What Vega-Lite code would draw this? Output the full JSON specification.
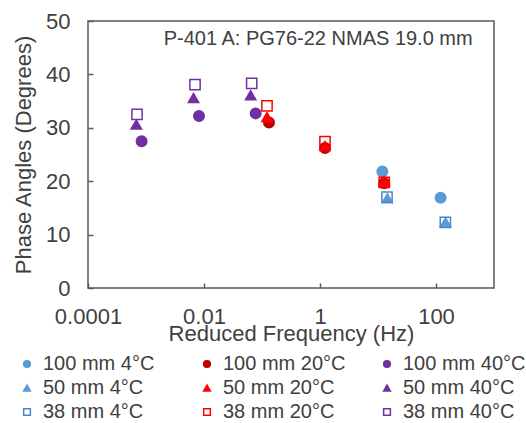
{
  "$schema": "https://vega.github.io/schema/vega-lite/v6.json",
  "width": 406,
  "height": 267,
  "autosize": {"type": "none"},
  "padding": {"left": 88, "top": 21, "right": 32, "bottom": 135},
  "background": "white",
  "config": {
    "font": "Liberation Sans",
    "view": {"stroke": "#595959", "strokeWidth": 1.5},
    "axis": {
      "grid": false,
      "domain": false,
      "tickColor": "#595959",
      "tickWidth": 1.5,
      "tickSize": -5,
      "labelFontSize": 22,
      "labelColor": "#404040",
      "titleFontSize": 22,
      "titleFontWeight": "normal",
      "titleColor": "#404040",
      "labelFont": "Liberation Sans",
      "titleFont": "Liberation Sans"
    },
    "legend": {
      "labelFont": "Liberation Sans",
      "labelFontSize": 20,
      "labelColor": "#404040"
    }
  },
  "data": {
    "values": [
      {"series": "100 mm 4°C", "specimen": "100 mm", "freq": 11.9, "angle": 21.8},
      {"series": "100 mm 4°C", "specimen": "100 mm", "freq": 120, "angle": 16.9},
      {"series": "100 mm 20°C", "specimen": "100 mm", "freq": 0.132, "angle": 31.0},
      {"series": "100 mm 20°C", "specimen": "100 mm", "freq": 1.22, "angle": 26.2},
      {"series": "100 mm 20°C", "specimen": "100 mm", "freq": 12.8, "angle": 19.6},
      {"series": "100 mm 40°C", "specimen": "100 mm", "freq": 0.00084, "angle": 27.5},
      {"series": "100 mm 40°C", "specimen": "100 mm", "freq": 0.0082, "angle": 32.2},
      {"series": "100 mm 40°C", "specimen": "100 mm", "freq": 0.0778, "angle": 32.7},
      {"series": "50 mm 4°C", "specimen": "50 mm", "freq": 14.5, "angle": 16.8},
      {"series": "50 mm 4°C", "specimen": "50 mm", "freq": 146, "angle": 12.3},
      {"series": "50 mm 20°C", "specimen": "50 mm", "freq": 0.122, "angle": 32.0},
      {"series": "50 mm 20°C", "specimen": "50 mm", "freq": 1.22, "angle": 26.6},
      {"series": "50 mm 20°C", "specimen": "50 mm", "freq": 12.8, "angle": 20.0},
      {"series": "50 mm 40°C", "specimen": "50 mm", "freq": 0.00068, "angle": 30.6},
      {"series": "50 mm 40°C", "specimen": "50 mm", "freq": 0.0066, "angle": 35.6},
      {"series": "50 mm 40°C", "specimen": "50 mm", "freq": 0.0638, "angle": 36.1},
      {"series": "38 mm 4°C", "specimen": "38 mm", "freq": 14.3, "angle": 17.0},
      {"series": "38 mm 4°C", "specimen": "38 mm", "freq": 145, "angle": 12.3},
      {"series": "38 mm 20°C", "specimen": "38 mm", "freq": 0.122, "angle": 34.1},
      {"series": "38 mm 20°C", "specimen": "38 mm", "freq": 1.22, "angle": 27.4},
      {"series": "38 mm 20°C", "specimen": "38 mm", "freq": 12.8, "angle": 19.8},
      {"series": "38 mm 40°C", "specimen": "38 mm", "freq": 0.0007, "angle": 32.5},
      {"series": "38 mm 40°C", "specimen": "38 mm", "freq": 0.007, "angle": 38.1},
      {"series": "38 mm 40°C", "specimen": "38 mm", "freq": 0.0664, "angle": 38.3}
    ]
  },
  "layer": [
    {
      "mark": {"type": "point", "filled": true, "strokeWidth": 1.5, "opacity": 1},
      "encoding": {
        "x": {
          "field": "freq",
          "type": "quantitative",
          "scale": {"type": "log", "domain": [0.0001, 1000], "nice": false},
          "axis": {
            "title": "Reduced Frequency (Hz)",
            "values": [0.0001, 0.01, 1, 100],
            "labelExpr": "datum.value < 0.001 ? '0.0001' : datum.value < 0.1 ? '0.01' : datum.value < 10 ? '1' : '100'",
            "labelPadding": 23,
            "titlePadding": -4,
            "labelFlush": false,
            "labelOverlap": false,
            "labelAlign": "center"
          }
        },
        "y": {
          "field": "angle",
          "type": "quantitative",
          "scale": {"domain": [0, 50], "nice": false},
          "axis": {
            "title": "Phase Angles (Degrees)",
            "values": [0, 10, 20, 30, 40, 50],
            "labelPadding": 23,
            "titlePadding": 10,
            "labelFlush": false
          }
        },
        "fill": {
          "field": "series",
          "type": "nominal",
          "scale": {
            "domain": ["100 mm 4°C", "100 mm 20°C", "100 mm 40°C", "50 mm 4°C", "50 mm 20°C", "50 mm 40°C", "38 mm 4°C", "38 mm 20°C", "38 mm 40°C"],
            "range": ["#5B9BD5", "#C00000", "#7030A0", "#5B9BD5", "#FF0000", "#7030A0", "transparent", "transparent", "transparent"]
          },
          "legend": {
            "title": null,
            "orient": "none",
            "legendX": -71,
            "legendY": 333,
            "direction": "horizontal",
            "columns": 3,
            "gridAlign": "all",
            "columnPadding": 31,
            "rowPadding": 4,
            "symbolSize": 45,
            "symbolStrokeWidth": 1.5,
            "labelOffset": 6,
            "labelLimit": 300
          }
        },
        "stroke": {
          "field": "series",
          "type": "nominal",
          "scale": {
            "domain": ["100 mm 4°C", "100 mm 20°C", "100 mm 40°C", "50 mm 4°C", "50 mm 20°C", "50 mm 40°C", "38 mm 4°C", "38 mm 20°C", "38 mm 40°C"],
            "range": ["#5B9BD5", "#C00000", "#7030A0", "#5B9BD5", "#FF0000", "#7030A0", "#4A86C8", "#FF0000", "#7030A0"]
          }
        },
        "shape": {
          "field": "series",
          "type": "nominal",
          "scale": {
            "domain": ["100 mm 4°C", "100 mm 20°C", "100 mm 40°C", "50 mm 4°C", "50 mm 20°C", "50 mm 40°C", "38 mm 4°C", "38 mm 20°C", "38 mm 40°C"],
            "range": ["circle", "circle", "circle", "triangle-up", "triangle-up", "triangle-up", "square", "square", "square"]
          }
        },
        "size": {
          "field": "specimen",
          "type": "nominal",
          "scale": {
            "domain": ["100 mm", "50 mm", "38 mm"],
            "range": [110, 105, 165]
          },
          "legend": null
        }
      }
    },
    {
      "data": {"values": [{"note": "P-401 A: PG76-22 NMAS 19.0 mm"}]},
      "mark": {"type": "text", "fontSize": 20, "color": "#404040", "align": "center", "baseline": "middle", "font": "Liberation Sans"},
      "encoding": {
        "x": {"datum": 0.93, "type": "quantitative"},
        "y": {"datum": 46.6, "type": "quantitative"},
        "text": {"field": "note", "type": "nominal"}
      }
    }
  ]
}
